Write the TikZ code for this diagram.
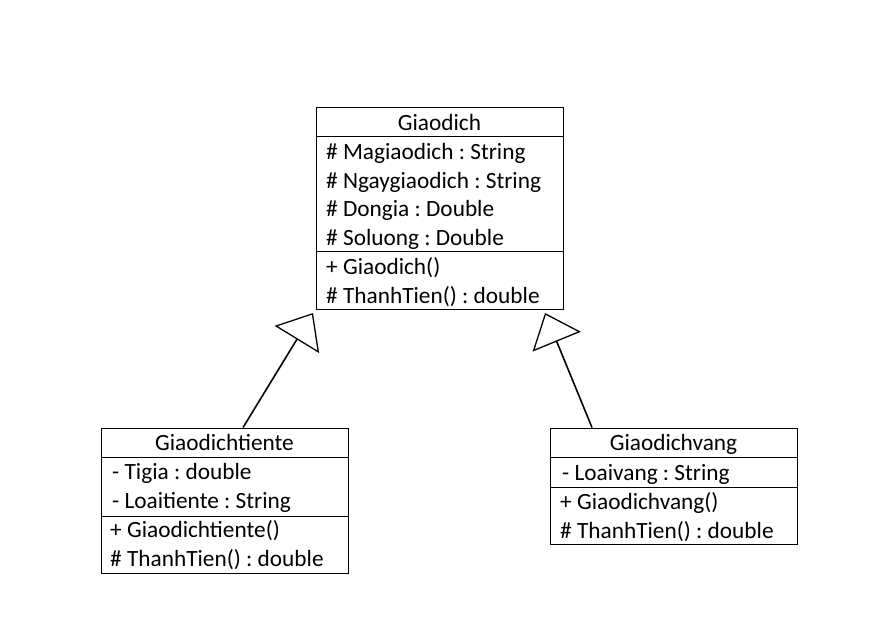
\documentclass[tikz,border=0pt]{standalone}
\usepackage{fontspec}
\setmainfont{Carlito}
\usetikzlibrary{arrows.meta}
\frenchspacing

\begin{document}
\begin{tikzpicture}[x=1pt, y=-1pt, font=\fontsize{23.3}{27}\selectfont,
  box/.style={draw, line width=0.9pt, inner sep=0pt, minimum width=247pt},
  row/.style={anchor=base west, inner sep=0pt},
  title/.style={anchor=base, inner sep=0pt},
  inherit/.style={-{Triangle[open, length=31pt, width=52pt, line width=1.3pt]},
    line width=1.6pt}]
  \useasboundingbox (0,0) rectangle (893,618);

  % parent class
  \node[box, minimum height=202pt] (gd) at (439.5,208) {};
  \node[title] (gdn) at (439.5,130) {Giaodich};
  \draw[line width=0.9pt] (316,136) -- (563,136);
  \draw[line width=0.9pt] (316,251) -- (563,251);
  \foreach \t [count=\i from 0] in {\# Magiaodich : String,
      \# Ngaygiaodich : String, \# Dongia : Double, \# Soluong : Double} {
    \node[row] (gda\i) at (326, {159.5+28.6*\i}) {\t};
  }
  \node[row] (gdm0) at (326,274) {+ Giaodich()};
  \node[row] (gdm1) at (326,303) {\# ThanhTien() : double};

  % subclass Giaodichtiente
  \node[box, minimum height=145pt] (gdt) at (224.5,500.5) {};
  \node[title] (gdtn) at (224.5,450) {Giaodichtiente};
  \draw[line width=0.9pt] (101,457) -- (348,457);
  \draw[line width=0.9pt] (101,516) -- (348,516);
  \node[row] (gdta0) at (112,479) {- Tigia : double};
  \node[row] (gdta1) at (112,508) {- Loaitiente : String};
  \node[row] (gdtm0) at (110,537) {+ Giaodichtiente()};
  \node[row] (gdtm1) at (110,566) {\# ThanhTien() : double};

  % subclass Giaodichvang
  \node[box, minimum height=116pt] (gdv) at (673.5,486) {};
  \node[title] (gdvn) at (673.5,450) {Giaodichvang};
  \draw[line width=0.9pt] (550,457) -- (797,457);
  \draw[line width=0.9pt] (550,487) -- (797,487);
  \node[row] (gdva0) at (562,480) {- Loaivang : String};
  \node[row] (gdvm0) at (560,509) {+ Giaodichvang()};
  \node[row] (gdvm1) at (560,538) {\# ThanhTien() : double};

  % generalisation
  \coordinate (tipL) at (313,313);
  \coordinate (tipR) at (545,313);
  \draw[inherit] ([xshift=18.5pt]gdt.north) -- (tipL);
  \draw[inherit] ([xshift=-81.5pt]gdv.north) -- (tipR);
\end{tikzpicture}
\end{document}
